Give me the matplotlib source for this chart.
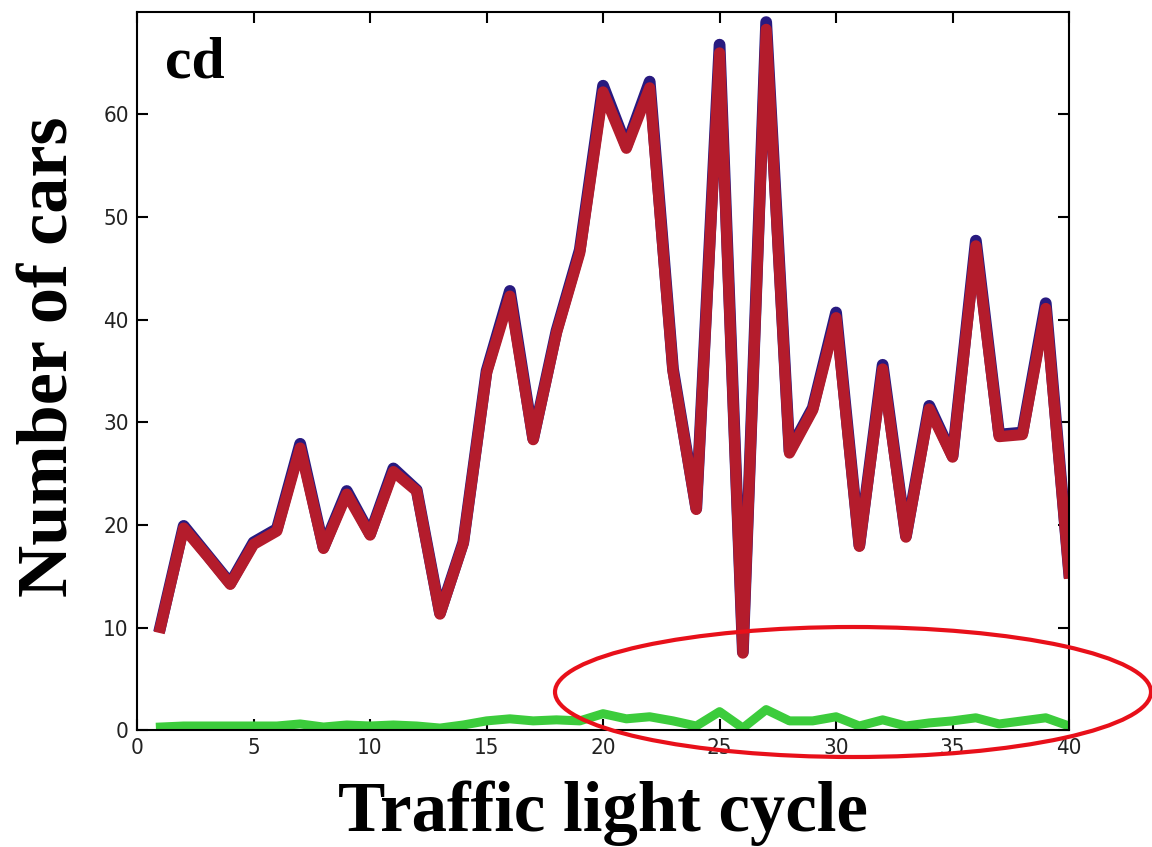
import matplotlib.pyplot as plt
from matplotlib.patches import Ellipse

cycles = list(range(1, 41))
red_cars = [10, 19.7, 17, 14.2, 18.1, 19.4, 27.5, 17.7, 23, 19, 25.2, 23.3, 11.3, 18.2, 34.8, 42.3,
            28.3, 38.7, 46.5, 62.2, 56.7, 62.6, 35, 21.5, 66, 7.5, 68.3, 27, 31.2, 40.2,
            17.9, 35.2, 18.8, 31.3, 26.6, 47.2, 28.6, 28.8, 41.1, 15.3]
blue_cars = [10.1, 19.9, 17.1, 14.3, 18.3, 19.6, 27.9, 17.8, 23.3, 19.1, 25.5, 23.4, 11.4, 18.3, 35, 42.8,
             28.4, 38.9, 46.8, 62.8, 56.9, 63.2, 35.2, 21.6, 66.8, 7.6, 69, 27.2, 31.4, 40.7,
             18, 35.6, 18.9, 31.6, 26.7, 47.7, 28.8, 29, 41.6, 15.4]
green_cars = [0.3, 0.4, 0.4, 0.4, 0.4, 0.4, 0.6, 0.3, 0.5, 0.4, 0.5, 0.4, 0.2, 0.5, 0.9, 1.1,
              0.9, 1.0, 0.9, 1.6, 1.1, 1.3, 0.9, 0.4, 1.8, 0.2, 2.0, 0.9, 0.9, 1.3,
              0.4, 1.0, 0.4, 0.7, 0.9, 1.2, 0.6, 0.9, 1.2, 0.4]

fig = plt.figure(figsize=(11.52, 8.47), dpi=100)
ax = fig.add_axes([0.119, 0.138, 0.809, 0.848])

ax.plot(cycles, blue_cars, color='#281a80', lw=8.5, solid_joinstyle='round')
ax.plot(cycles, red_cars, color='#b41c2c', lw=8, solid_joinstyle='round')
ax.plot(cycles, green_cars, color='#3ccc3c', lw=6.5, solid_joinstyle='round')

ax.set_xlim(0, 40)
ax.set_ylim(0, 70)
ax.set_xticks(range(0, 41, 5))
ax.set_yticks(range(0, 61, 10))
ax.tick_params(direction='in', length=8, width=1.5, top=True, right=True,
               labelsize=16, pad=6, labelcolor='#222222')
for lbl in ax.get_xticklabels() + ax.get_yticklabels():
    lbl.set_family(['Liberation Sans Narrow', 'DejaVu Sans'])
    lbl.set_fontstretch('condensed')
for s in ax.spines.values():
    s.set_linewidth(1.5)

serif = ['Liberation Serif', 'DejaVu Serif']
ax.set_xlabel('Traffic light cycle', family=serif, fontweight='bold', fontsize=51)
ax.set_ylabel('Number of cars', family=serif, fontweight='bold', fontsize=52)
ax.xaxis.set_label_coords(0.5, -0.07)
ax.yaxis.set_label_coords(-0.059, 0.52)
ax.text(0.03, 0.965, 'cd', transform=ax.transAxes, family=serif, fontweight='bold',
        fontsize=43, va='top', ha='left')

# highlight ellipse, in figure pixels
ell = Ellipse((853 / 1152, 1 - 692 / 847), 596 / 1152, 130 / 847, transform=fig.transFigure,
              fill=False, edgecolor='#e8101a', lw=3, clip_on=False)
fig.patches.append(ell)

fig.savefig('out.png', dpi=100)
